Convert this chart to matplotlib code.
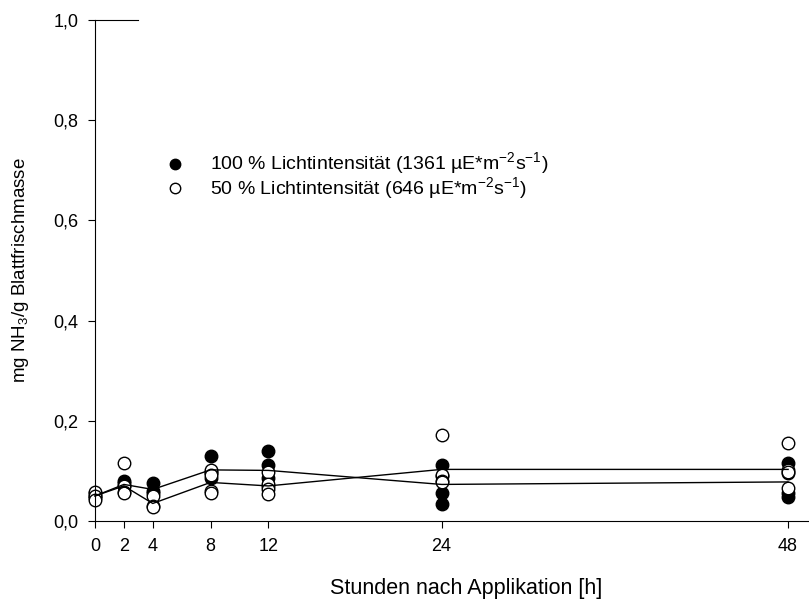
import matplotlib
matplotlib.use("Agg")
import matplotlib.pyplot as plt
from matplotlib.lines import Line2D
from matplotlib.ticker import FuncFormatter

plt.rcParams['font.family'] = ['Liberation Sans', 'DejaVu Sans']

hours = [0, 2, 4, 8, 12, 24, 48]

# single measurements, 100 % light intensity (filled)
full_pts = [
    [0.055, 0.050, 0.045],
    [0.080, 0.075, 0.070],
    [0.075, 0.060, 0.055],
    [0.130, 0.098, 0.095, 0.085],
    [0.140, 0.112, 0.085, 0.070],
    [0.112, 0.090, 0.055, 0.033],
    [0.115, 0.095, 0.055, 0.048],
]
# single measurements, 50 % light intensity (open)
half_pts = [
    [0.058, 0.050, 0.042],
    [0.115, 0.070, 0.057, 0.055],
    [0.050, 0.030, 0.027],
    [0.102, 0.092, 0.060, 0.056],
    [0.098, 0.073, 0.064, 0.054],
    [0.172, 0.092, 0.080, 0.078],
    [0.155, 0.102, 0.098, 0.066],
]
# means drawn as lines
mean_full = [0.050, 0.073, 0.063, 0.102, 0.101, 0.073, 0.078]
mean_half = [0.050, 0.070, 0.035, 0.077, 0.070, 0.103, 0.103]

xticks = [0, 2, 4, 8, 12, 24, 48]
yticks = [0.0, 0.2, 0.4, 0.6, 0.8, 1.0]

fig = plt.figure(figsize=(8.09, 6.05), dpi=100)
ax = fig.add_axes([95/809, 84/605, 714/809, 501/605])

for h, vals in zip(hours, full_pts):
    ax.plot([h]*len(vals), vals, 'o', ms=9, mfc='black', mec='black',
            mew=1, zorder=2, clip_on=False)
for h, vals in zip(hours, half_pts):
    ax.plot([h]*len(vals), vals, 'o', ms=9, mfc='white', mec='black',
            mew=1, zorder=2, clip_on=False)

ax.plot(hours, mean_full, color='black', lw=1, zorder=3, clip_on=False)
ax.plot(hours, mean_half, color='black', lw=1, zorder=3, clip_on=False)

ax.set_xlim(0, 714/14.44)
ax.set_ylim(0, 1.0)
ax.set_xticks(xticks)
ax.set_yticks(yticks)
ax.yaxis.set_major_formatter(FuncFormatter(lambda v, p: f"{v:.1f}".replace('.', ',')))
ax.tick_params(direction='out', length=5, width=0.8, labelsize=13, pad=7)

ax.spines['right'].set_visible(False)
ax.spines['top'].set_bounds(0, 3)
for s in ax.spines.values():
    s.set_linewidth(0.8)

ax.set_xlabel("Stunden nach Applikation [h]", fontsize=15.5)
ax.xaxis.set_label_coords(0.52, -0.114)
ax.set_ylabel(r"mg NH$_\mathregular{3}$/g Blattfrischmasse", fontsize=13.5, labelpad=16)

handles = [
    Line2D([], [], ls='none', marker='o', ms=7.5, mfc='black', mec='black'),
    Line2D([], [], ls='none', marker='o', ms=7.5, mfc='white', mec='black'),
]
labels = [
    r"100 % Lichtintensität (1361 µE*m$^\mathregular{-2}$s$^\mathregular{-1}$)",
    r"50 % Lichtintensität (646 µE*m$^\mathregular{-2}$s$^\mathregular{-1}$)",
]
ax.legend(handles, labels, loc='upper left', bbox_to_anchor=(156/809, 1 - 141/605),
          bbox_transform=fig.transFigure, frameon=False, fontsize=14,
          handlelength=1.0, handletextpad=1.3, labelspacing=-0.12, borderpad=0)

fig.savefig("out.png", dpi=100)
